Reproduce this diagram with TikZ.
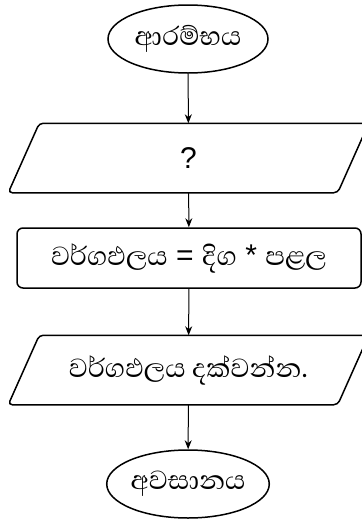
\documentclass[tikz,border=0pt]{standalone}
\usepackage{fontspec}
\setmainfont{Liberation Sans}
\newfontfamily\sinhalafont[Script=Sinhala,Scale=1.12]{Abhaya Libre}
\usepackage{tikz}
\usetikzlibrary{shapes.geometric,arrows.meta,positioning}

% slanted input/output box round a node
\newcommand{\iobox}[1]{%
  \draw[rounded corners=4pt] ([xshift=-15.5pt]#1.south west) -- ([xshift=15.5pt]#1.north west)
    -- ([xshift=15.5pt]#1.north east) -- ([xshift=-15.5pt]#1.south east) -- cycle;}

\begin{document}
\begin{tikzpicture}[x=1pt,y=-1pt,line width=1.5pt,
  every node/.style={inner sep=0pt,font=\fontsize{30}{34}\selectfont},
  term/.style={ellipse,draw=black,minimum width=160pt,minimum height=68pt},
  io/.style={rectangle,minimum width=328pt,minimum height=68pt},
  proc/.style={rectangle,draw=black,rounded corners=6pt,minimum width=344pt,minimum height=60pt},
  flow/.style={-{Stealth[length=9pt,width=7pt]},line width=1pt}]
\useasboundingbox (0,0) rectangle (362,523);
\node (start) at (188,39) [term]{\sinhalafont ආරම්භය};
\node (input) at (188.5,158) [io]{?};
\node (calc) at (189,258) [proc]{{\sinhalafont වර්ගඵලය} = {\sinhalafont දිග} * {\sinhalafont පළල}};
\node (show) at (188.5,370) [io]{\sinhalafont වර්ගඵලය දක්වන්න.};
\node (stop) at (188,484) [term]{\sinhalafont අවසානය};
\iobox{input}
\iobox{show}
\draw[flow] (start) -- (input);
\draw[flow] (input) -- (calc);
\draw[flow] (calc) -- (show);
\draw[flow] (show) -- (stop);
\end{tikzpicture}
\end{document}
